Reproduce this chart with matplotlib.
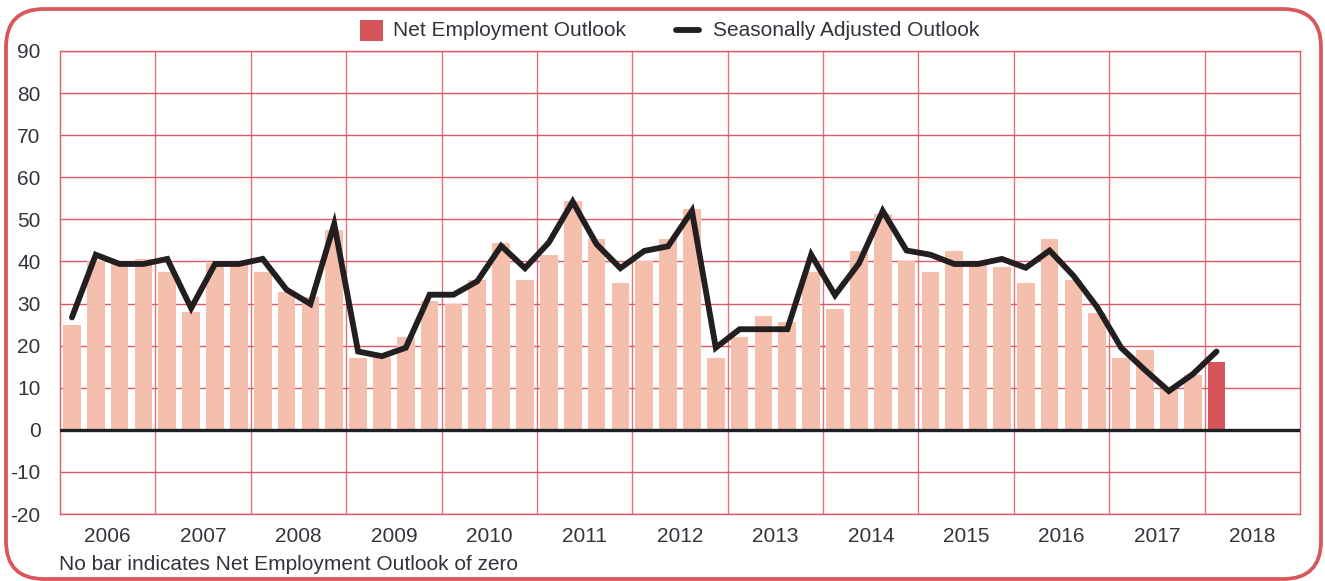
import matplotlib
matplotlib.use("Agg")
import matplotlib.pyplot as plt
from matplotlib.patches import FancyBboxPatch, Rectangle
from matplotlib.lines import Line2D
import numpy as np

plt.rcParams['font.family'] = ['Liberation Sans', 'DejaVu Sans']

years = [str(y) for y in range(2006, 2019)]
net_outlook = [25, 40, 39.5, 40.5,
               37.5, 28, 39.7, 39.5,
               37.6, 32.7, 31.6, 47.5,
               17, 17.3, 22, 30.7,
               30, 35.6, 44.4, 35.6,
               41.6, 54.4, 45.4, 34.8,
               40, 45.4, 52.5, 17,
               22, 27, 25.7, 37.6,
               28.8, 42.6, 51.3, 40,
               37.6, 42.6, 39.5, 38.6,
               34.8, 45.4, 35.6, 27.8,
               17, 19, 9.8, 13,
               16]
seasonal = [26.7, 41.6, 39.4, 39.4,
            40.6, 28.9, 39.4, 39.4,
            40.6, 33.3, 29.9, 48.9,
            18.6, 17.5, 19.5, 32.1,
            32.1, 35.3, 43.7, 38.4,
            44.5, 54.2, 44.1, 38.4,
            42.5, 43.6, 52.0, 19.5,
            23.9, 23.9, 23.9, 41.6,
            32.0, 39.5, 52.0, 42.6,
            41.6, 39.4, 39.4, 40.6,
            38.5, 42.6, 36.6, 29.1,
            19.5, 14.2, 9.2, 13.2,
            18.6]
yticks = list(range(-20, 100, 10))

W, H = 1325, 581
fig = plt.figure(figsize=(W / 100, H / 100), dpi=100)

RED = '#d9575c'
GRID = '#dc5a61'
LIGHT = '#f5bfae'
DARK = '#d6555a'
LINE = '#231f20'
TXT = '#33333c'
FS = 15

# overlay in pixel coordinates for border and legend
ov = fig.add_axes([0, 0, 1, 1], zorder=0)
ov.set_xlim(0, W)
ov.set_ylim(H, 0)
ov.axis('off')
ov.add_patch(FancyBboxPatch((6, 9), 1321 - 6, 579 - 9,
                            boxstyle="round,pad=0,rounding_size=38",
                            fill=False, edgecolor=RED, linewidth=2.7))
ov.add_patch(Rectangle((360, 20), 23, 21, color=DARK, linewidth=0))
ov.add_line(Line2D([676, 699], [30, 30], color=LINE, linewidth=4.2,
                   solid_capstyle='round'))
ov.text(393, 30, 'Net Employment Outlook', fontsize=FS, color=TXT,
        va='center', ha='left')
ov.text(713, 30, 'Seasonally Adjusted Outlook', fontsize=FS, color=TXT,
        va='center', ha='left')
ov.text(59, 564, 'No bar indicates Net Employment Outlook of zero',
        fontsize=FS, color=TXT, va='center', ha='left')

left, right, top, bottom = 60, 1300, 51, 514
ax = fig.add_axes([left / W, (H - bottom) / H, (right - left) / W, (bottom - top) / H],
                  zorder=1)

n = len(net_outlook)
x = np.arange(n)
colors = [LIGHT] * (n - 1) + [DARK]
ax.bar(x, net_outlook, width=0.74, color=colors, zorder=2)
ax.plot(x, seasonal, color=LINE, linewidth=4.2, zorder=4,
        solid_joinstyle='miter', solid_capstyle='round')
ax.axhline(0, color='#1c2126', linewidth=2.4, zorder=5)

ax.set_xlim(-0.5, 4 * len(years) - 0.5)
ax.set_ylim(-20, 90)
ax.set_yticks(yticks)
ax.set_yticklabels([str(v) for v in yticks], fontsize=FS, color=TXT)
ax.tick_params(axis='y', length=0, pad=14)

for v in yticks:
    ax.axhline(v, color=GRID, linewidth=1.0, zorder=1)
for i in range(1, len(years)):
    ax.axvline(4 * i - 0.5, color=GRID, linewidth=1.0, zorder=1, alpha=0.85)

ax.set_xticks([4 * i + 1.5 for i in range(len(years))])
ax.set_xticklabels(years, fontsize=FS, color=TXT)
ax.tick_params(axis='x', length=0, pad=9)

for s in ax.spines.values():
    s.set_color(GRID)
    s.set_linewidth(1.0)

fig.savefig('out.png', dpi=100)
